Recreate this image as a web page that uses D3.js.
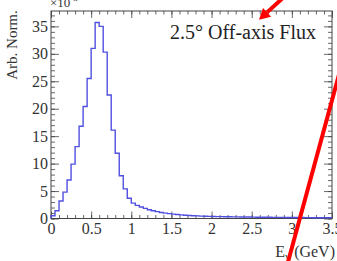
<!DOCTYPE html>
<html>
<head>
<meta charset="utf-8">
<script src="https://cdn.jsdelivr.net/npm/d3@7"></script>
<style>
  html, body { margin: 0; padding: 0; background: #fff; }
  svg { display: block; }
  .tick text { font-family: "Liberation Serif", "DejaVu Serif", serif; font-size: 16px; fill: #333; }
</style>
</head>
<body>
<div id="chart"></div>
<script>
// bin width in GeV, histogram contents (x10^-3), one per bin from 0 to 3.5 GeV
const binWidth = 0.05;
const fluxValues = [
  0.5, 1.4, 3.2, 4.8, 7.0, 9.9, 13.1, 16.8, 20.4, 25.5,
  31.0, 35.7, 35.0, 30.3, 22.5, 16.1, 11.9, 7.8, 5.4, 3.7,
  2.8, 2.4, 2.1, 1.85, 1.6, 1.4, 1.25, 1.1, 0.98, 0.88,
  0.8, 0.72, 0.66, 0.6, 0.55, 0.5, 0.47, 0.44, 0.41, 0.39,
  0.37, 0.35, 0.34, 0.32, 0.31, 0.30, 0.29, 0.28, 0.27, 0.26,
  0.25, 0.24, 0.23, 0.22, 0.22, 0.21, 0.20, 0.20, 0.19, 0.18,
  0.18, 0.17, 0.17, 0.16, 0.16, 0.15, 0.15, 0.14, 0.14, 0.13
];
const xMajorTicks = [0, 0.5, 1, 1.5, 2, 2.5, 3, 3.5];
const yMajorTicks = [0, 5, 10, 15, 20, 25, 30, 35];
const titleText = "2.5° Off-axis Flux";
const yTitle = "Arb. Norm.";

// red annotation lines, in data units
const arrowTop = [[2.89, 40.2], [2.59, 36.2]];
const slashLine = [[2.93, -9.1], [3.62, 28.0]];

const width = 337, height = 261;
const serif = '"Liberation Serif", "DejaVu Serif", serif';

const svg = d3.select("#chart").append("svg")
    .attr("width", width)
    .attr("height", height);

const x = d3.scaleLinear().domain([0, 3.5]).range([51, 332]);
const y = d3.scaleLinear().domain([0, 37.8]).range([218.5, 11]);

const xMinor = d3.range(0, 3.5001, 0.1);
const yMinor = d3.range(0, 37.8, 1);

function styleAxis(g) {
    g.select(".domain").remove();
    g.selectAll(".tick line").attr("stroke", "#444").attr("stroke-width", 0.8);
}

// minor ticks
svg.append("g").attr("transform", `translate(0,${y(0)})`)
    .call(d3.axisBottom(x).tickValues(xMinor).tickSize(-3.5).tickFormat(""))
    .call(styleAxis);
svg.append("g").attr("transform", `translate(0,${y.range()[1]})`)
    .call(d3.axisTop(x).tickValues(xMinor).tickSize(-3.5).tickFormat(""))
    .call(styleAxis);
svg.append("g").attr("transform", `translate(${x(0)},0)`)
    .call(d3.axisLeft(y).tickValues(yMinor).tickSize(-4).tickFormat(""))
    .call(styleAxis);
svg.append("g").attr("transform", `translate(${x.range()[1]},0)`)
    .call(d3.axisRight(y).tickValues(yMinor).tickSize(-4).tickFormat(""))
    .call(styleAxis);

// major ticks
svg.append("g").attr("transform", `translate(0,${y(0)})`)
    .call(d3.axisBottom(x).tickValues(xMajorTicks).tickSize(-7).tickPadding(4)
        .tickFormat(d3.format("~g")))
    .call(styleAxis);
svg.append("g").attr("transform", `translate(0,${y.range()[1]})`)
    .call(d3.axisTop(x).tickValues(xMajorTicks).tickSize(-7).tickFormat(""))
    .call(styleAxis);
svg.append("g").attr("transform", `translate(${x(0)},0)`)
    .call(d3.axisLeft(y).tickValues(yMajorTicks).tickSize(-8).tickPadding(3))
    .call(styleAxis);
svg.append("g").attr("transform", `translate(${x.range()[1]},0)`)
    .call(d3.axisRight(y).tickValues(yMajorTicks).tickSize(-8).tickFormat(""))
    .call(styleAxis);

// frame
svg.append("rect")
    .attr("x", x(0)).attr("y", y.range()[1])
    .attr("width", x.range()[1] - x(0))
    .attr("height", y(0) - y.range()[1])
    .attr("fill", "none").attr("stroke", "#444").attr("stroke-width", 1);

// histogram as a step line
const pts = [[0, 0]];
fluxValues.forEach((v, i) => {
    pts.push([i * binWidth, v]);
    pts.push([(i + 1) * binWidth, v]);
});
svg.append("path")
    .attr("d", d3.line().x(d => x(d[0])).y(d => y(d[1]))(pts))
    .attr("fill", "none")
    .attr("stroke", "#5050e0")
    .attr("stroke-width", 1.4);

// texts
svg.append("text")
    .attr("x", 316).attr("y", 39)
    .attr("text-anchor", "end")
    .attr("font-family", serif).attr("font-size", 20).attr("fill", "#222")
    .text(titleText);

svg.append("text")
    .attr("transform", "translate(17,45) rotate(-90)")
    .attr("text-anchor", "middle")
    .attr("font-family", serif).attr("font-size", 15).attr("fill", "#333")
    .text(yTitle);

const mult = svg.append("text")
    .attr("x", 50).attr("y", 7)
    .attr("font-family", serif).attr("font-size", 13).attr("fill", "#333");
mult.append("tspan").text("×10");
mult.append("tspan").attr("dy", -6).attr("font-size", 9).text("-3");

const xt = svg.append("text")
    .attr("x", 335).attr("y", 257)
    .attr("text-anchor", "end")
    .attr("font-family", serif).attr("font-size", 16).attr("fill", "#333");
xt.append("tspan").text("E");
xt.append("tspan").attr("dy", 3).attr("font-size", 11).text("ν");
xt.append("tspan").attr("dy", -3).text(" (GeV)");

// red annotations
const px = p => [x(p[0]), y(p[1])];
const a0 = px(arrowTop[0]), a1 = px(arrowTop[1]);
const dx = a0[0] - a1[0], dy = a0[1] - a1[1];
const len = Math.hypot(dx, dy), ux = dx / len, uy = dy / len;
const bx = a1[0] + ux * 11, by = a1[1] + uy * 11;
svg.append("line")
    .attr("x1", a0[0]).attr("y1", a0[1]).attr("x2", bx).attr("y2", by)
    .attr("stroke", "#f00").attr("stroke-width", 4);
svg.append("polygon")
    .attr("points", [[a1[0], a1[1]], [bx - uy * 6, by + ux * 6], [bx + uy * 6, by - ux * 6]].join(" "))
    .attr("fill", "#f00");

const s0 = px(slashLine[0]), s1 = px(slashLine[1]);
svg.append("line")
    .attr("x1", s0[0]).attr("y1", s0[1]).attr("x2", s1[0]).attr("y2", s1[1])
    .attr("stroke", "#f00").attr("stroke-width", 4);
</script>
</body>
</html>
